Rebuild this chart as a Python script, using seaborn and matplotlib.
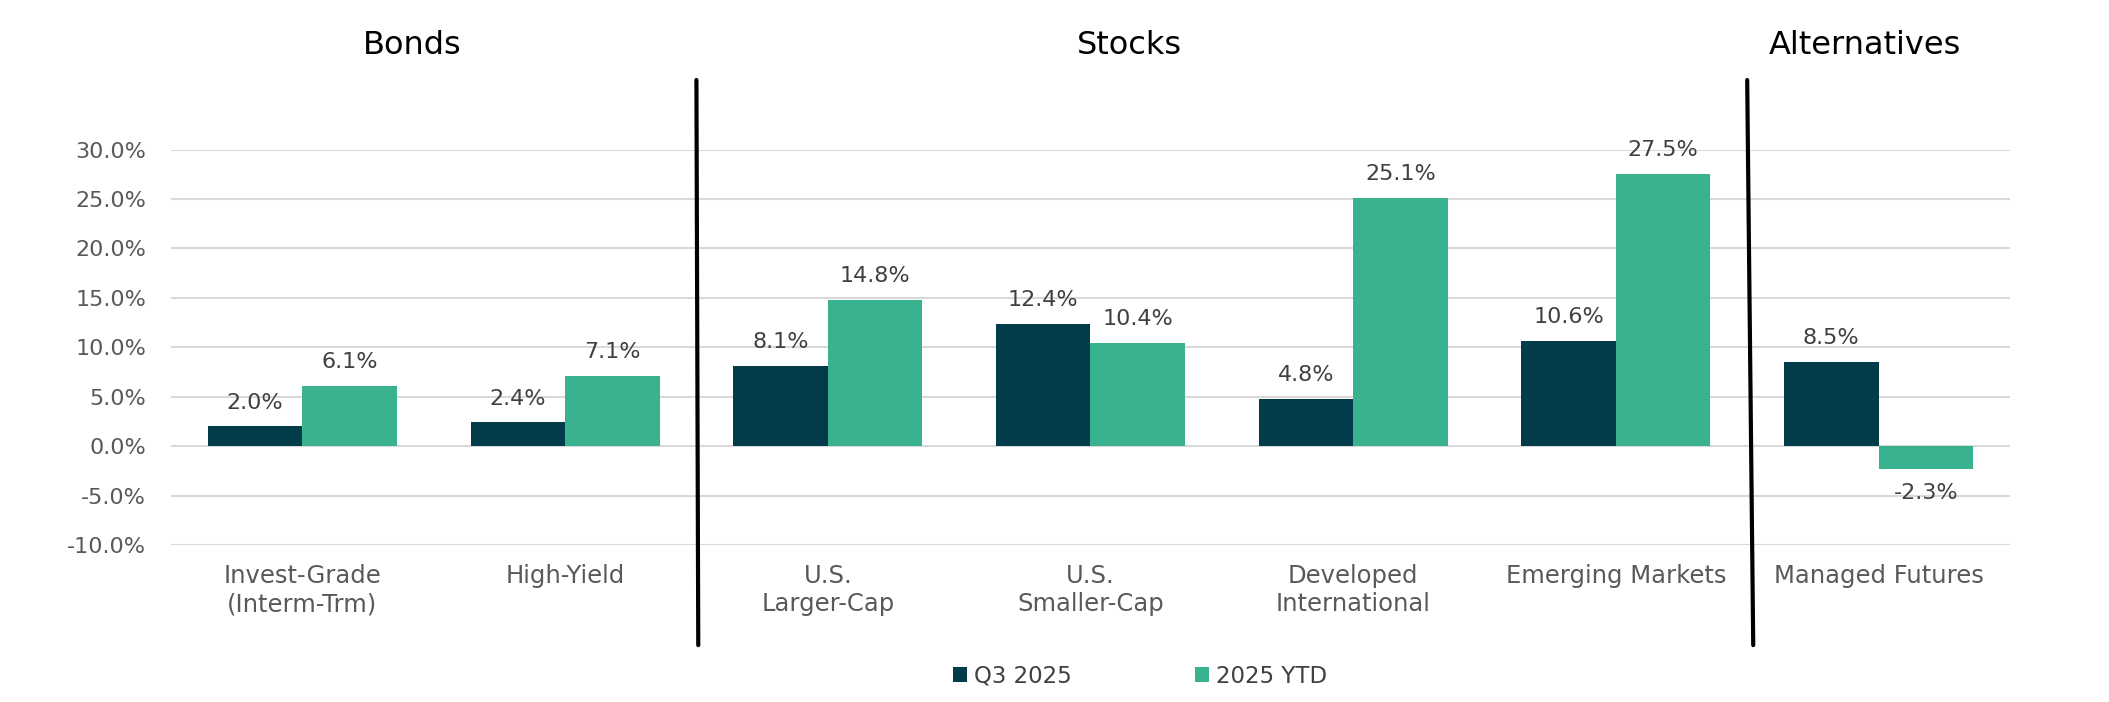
import matplotlib
matplotlib.use("Agg")
import matplotlib.pyplot as plt
import matplotlib.transforms as mtransforms
from matplotlib.lines import Line2D
import seaborn as sns
import pandas as pd

categories = ["Invest-Grade\n(Interm-Trm)", "High-Yield", "U.S.\nLarger-Cap", "U.S.\nSmaller-Cap",
              "Developed\nInternational", "Emerging Markets", "Managed Futures"]
series_names = ["Q3 2025", "2025 YTD"]
q3_2025 = [2.0, 2.4, 8.1, 12.4, 4.8, 10.6, 8.5]
ytd_2025 = [6.1, 7.1, 14.8, 10.4, 25.1, 27.5, -2.3]
y_ticks = [-10, -5, 0, 5, 10, 15, 20, 25, 30]
group_titles = ["Bonds", "Stocks", "Alternatives"]

colors = ["#023B4A", "#39B38F"]

df = pd.DataFrame({
    "category": categories * 2,
    "series": [series_names[0]] * len(categories) + [series_names[1]] * len(categories),
    "value": q3_2025 + ytd_2025,
})

sns.set_theme(style="white")
plt.rcParams["font.family"] = ["DejaVu Sans"]

fig = plt.figure(figsize=(21.09, 7.02), dpi=100)
ax = fig.add_axes([0.0811, 0.2236, 0.953 - 0.0811, 0.7869 - 0.2236])

sns.barplot(data=df, x="category", y="value", hue="series", order=categories,
            hue_order=series_names, palette=colors, width=0.72, saturation=1,
            linewidth=0, edgecolor="none", ax=ax, zorder=3)

for cont in ax.containers:
    ax.bar_label(cont, labels=[f"{v:.1f}%" for v in cont.datavalues], padding=10,
                 fontsize=16, color="#404040")

ax.set_ylim(-10, 30)
ax.set_xlim(-0.5, len(categories) - 0.5)
ax.set_yticks(y_ticks)
ax.set_yticklabels([f"{t:.1f}%" for t in y_ticks])
ax.tick_params(axis="y", length=0, pad=18, labelsize=16, labelcolor="#595959")
ax.tick_params(axis="x", length=0, pad=14, labelsize=17.5, labelcolor="#595959")
for lab in ax.get_xticklabels():
    lab.set_linespacing(1.2)
ax.set_xlabel("")
ax.set_ylabel("")
ax.yaxis.grid(True, color="#D9D9D9", linewidth=1.5, zorder=0)
ax.xaxis.grid(False)
ax.set_axisbelow(True)
for s in ax.spines.values():
    s.set_visible(False)

# legend
handles, labels = ax.get_legend_handles_labels()
if ax.legend_ is not None:
    ax.legend_.remove()
fig.legend(handles, labels, loc="center", bbox_to_anchor=(0.5405, 0.037), ncol=2,
           frameon=False, fontsize=16.5, handlelength=0.6, handleheight=0.6,
           handletextpad=0.3, columnspacing=5.4, labelcolor="#404040")

# divider lines and group titles
trans = mtransforms.blended_transform_factory(ax.transData, fig.transFigure)
for xt, xb in [(1.5, 1.507), (5.5, 5.523)]:
    fig.add_artist(Line2D([xt, xb], [0.886, 0.081], transform=trans, color="black",
                          linewidth=3, clip_on=False))
for title, xpos in zip(group_titles, [0.42, 3.15, 5.95]):
    fig.text(xpos, 0.935, title, transform=trans, ha="center", va="center",
             fontsize=23, color="black")

fig.savefig("out.png", dpi=100)
